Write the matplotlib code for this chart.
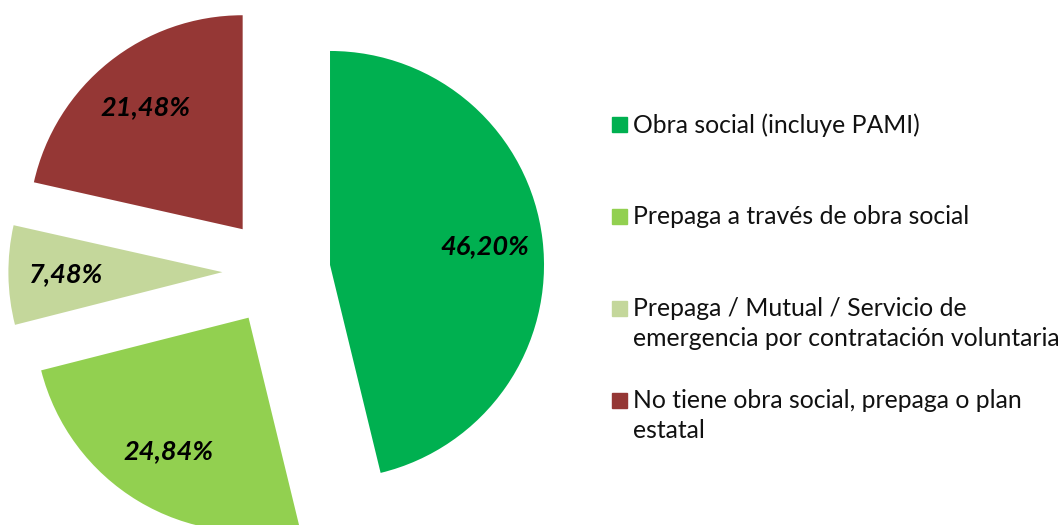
import matplotlib.pyplot as plt
from matplotlib.patches import Rectangle

categorias = [
    'Obra social (incluye PAMI)',
    'Prepaga a través de obra social',
    'Prepaga / Mutual / Servicio de\nemergencia por contratación voluntaria',
    'No tiene obra social, prepaga o plan\nestatal',
]
porcentajes = [46.20, 24.84, 7.48, 21.48]
colores = ['#00B050', '#92D050', '#C4D79B', '#953735']

W, H = 1064, 525
fig = plt.figure(figsize=(W / 100, H / 100), dpi=100)
ax = fig.add_axes([0, 0, 1, 1])

def etiqueta(p):
    return ('%.2f%%' % p).replace('.', ',')

# explode va en unidades de datos (px), no en fraccion del radio
wedges, texts, autotexts = ax.pie(
    porcentajes, colors=colores, startangle=90, counterclock=False,
    radius=214, center=(276.4, H - 271.4), explode=[54] * 4,
    autopct=etiqueta, pctdistance=0.73, frame=True,
    wedgeprops=dict(linewidth=0),
    textprops=dict(fontfamily='Lato', fontsize=19.5, fontweight='bold',
                   fontstyle='italic', color='black'))
ax.set_xlim(0, W)
ax.set_ylim(0, H)
ax.axis('off')

# leyenda a la derecha
for i, (lab, col) in enumerate(zip(categorias, colores)):
    yc = 124.5 + 92 * i
    fig.patches.append(Rectangle((612 / W, 1 - (yc + 7.5) / H), 15 / W, 15 / H,
                                 transform=fig.transFigure, color=col))
    fig.text(633 / W, 1 - (yc - 11.5) / H, lab, fontfamily='Lato', fontsize=17.8,
             va='top', ha='left', linespacing=1.38, color='#111111')

fig.savefig('out.png', dpi=100)
